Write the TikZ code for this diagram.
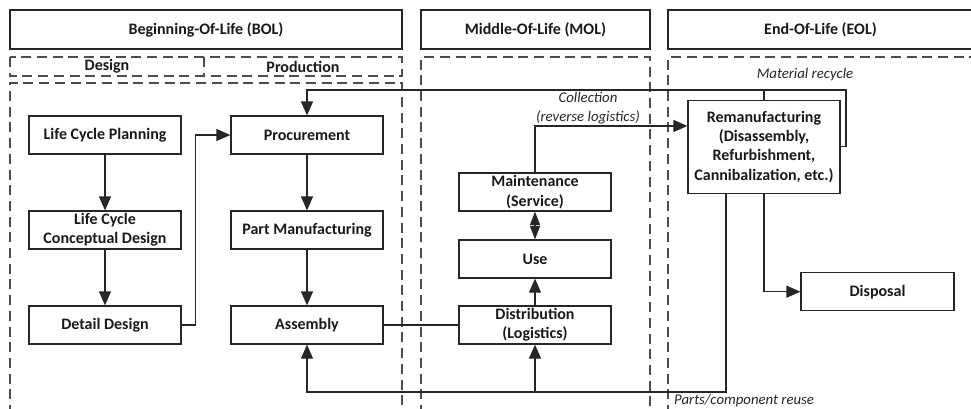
\documentclass[tikz,border=0pt]{standalone}
\usepackage{fontspec}
\setmainfont{Carlito}
\usetikzlibrary{arrows.meta}
\begin{document}
\begin{tikzpicture}[x=1pt,y=-1pt,
  box/.style={draw=black!85, line width=1.2pt, minimum width=152pt, minimum height=38pt,
    inner sep=0pt, align=center, font=\fontsize{16}{19.3}\selectfont\bfseries, text=black!90},
  head/.style={box, minimum height=39pt},
  zonetext/.style={inner sep=0pt, font=\fontsize{16}{19.3}\selectfont\bfseries, text=black!90},
  zone/.style={draw=black!70, line width=1.2pt, dash pattern=on 10pt off 5.7pt},
  conn/.style={draw=black!85, line width=1.2pt},
  arr/.style={conn, -{Triangle[length=14pt,width=12pt]}},
  lbl/.style={inner sep=0pt, align=center, font=\fontsize{14.8}{18.5}\selectfont\itshape, text=black!85}
]
\useasboundingbox (0,0) rectangle (971,409);

% phase headers
\node[head, minimum width=392pt] (bol) at (206,29.5) {Beginning-Of-Life (BOL)};
\node[head, minimum width=229pt] (mol) at (535.5,29.5) {Middle-Of-Life (MOL)};
\node[head, minimum width=305pt] (eol) at (820.5,29.5) {End-Of-Life (EOL)};

% dashed zones
\draw[zone] (10,57) rectangle (402,76);
\draw[zone] (204,57) -- (204,76);
\node[zonetext] (design) at (107,66.5) {Design};
\node[zonetext] (production) at (303,66.5) {Production};
\draw[zone] (10,415) -- (10,83) -- (402,83) -- (402,415);
\draw[zone] (421,415) -- (421,57) -- (650,57) -- (650,415);
\draw[zone] (668,415) -- (668,57) -- (975,57);

% BOL activities
\node[box] (lcp)  at (105,135) {Life Cycle Planning};
\node[box] (lccd) at (105,230) {Life Cycle\\Conceptual Design};
\node[box] (dd)   at (105,325) {Detail Design};
\node[box] (proc) at (307,135) {Procurement};
\node[box] (pm)   at (307,230) {Part Manufacturing};
\node[box] (asm)  at (307,325) {Assembly};

% MOL activities
\node[box] (mnt)  at (535,192) {Maintenance\\(Service)};
\node[box] (use)  at (535,259) {Use};
\node[box] (dist) at (535,325) {Distribution\\(Logistics)};

% EOL activities
\node[box, minimum height=93pt] (reman) at (764,146.7)
  {Remanufacturing\\(Disassembly,\\Refurbishment,\\Cannibalization, etc.)};
\node[box, minimum width=153pt] (disp) at (877.5,291.7) {Disposal};

% routing points
\coordinate (recyc) at (846,90);
\coordinate (coll) at (535,126);
\coordinate (reuse) at (726,392);

% connectors
\draw[arr] (lcp) -- (lccd);
\draw[arr] (lccd) -- (dd);
\draw[arr] (dd.east) -- ++(14,0) |- (proc.west);
\draw[arr] (proc) -- (pm);
\draw[arr] (pm) -- (asm);
\draw[conn] (asm.east) -- (dist.west);
\draw[arr] (dist) -- (use);
\draw[conn, {Triangle[length=13.5pt,width=10pt]}-{Triangle[length=13.5pt,width=10pt]}] (mnt) -- (use);
\draw[arr] (mnt.north) -- (coll) -- (coll -| reman.west);
\draw[arr] (reman.east) -| (recyc) -| (proc.north);
\draw[conn] (reman.north) -- (reman.north |- recyc);
\draw[arr] (reman.south) |- (disp.west);
\draw[arr] (reman.south -| reuse) -- (reuse) -| (asm.south);
\draw[arr] (dist.south |- reuse) -- (dist.south);

% flow labels
\node[lbl] (lrecyc) at (805,75) {Material recycle};
\node[lbl] (lcoll) at (588,108) {Collection\\(reverse logistics)};
\node[lbl, anchor=west] (lreuse) at (674,401) {Parts/component reuse};
\end{tikzpicture}
\end{document}
